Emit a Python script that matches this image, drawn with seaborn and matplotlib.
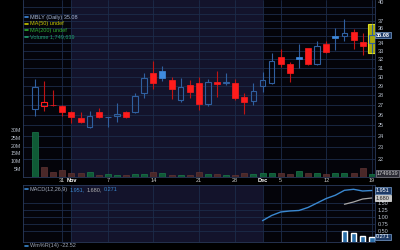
import numpy as np
import pandas as pd
import matplotlib
matplotlib.use("Agg")
import matplotlib.pyplot as plt
import seaborn as sns
from matplotlib.transforms import blended_transform_factory as btf
from matplotlib.lines import Line2D
import matplotlib.ticker as mticker

# ---------------- data ----------------
day_idx = list(range(38))
opens  = [26.51, 26.85, 26.98, 26.88, 26.27, 25.69, 24.83, 26.27, 25.75, 25.85,
          26.27, 26.27, 28.17, 30.37, 30.64, 29.61, 27.45, 29.06, 29.32, 27.02,
          29.43, 29.25, 29.32, 27.74, 27.39, 28.98, 29.32, 32.34, 31.42, 32.34,
          33.41, 31.46, 33.93, 34.97, 34.90, 35.43, 34.22, 34.00]
highs  = [29.73, 29.50, 28.52, 26.95, 26.30, 26.21, 26.37, 26.68, 25.80, 27.12,
          26.37, 28.17, 30.37, 31.76, 31.26, 29.92, 29.81, 29.61, 29.92, 29.69,
          30.64, 30.37, 29.69, 28.20, 29.28, 30.56, 32.83, 33.25, 31.73, 33.93,
          33.45, 34.31, 34.31, 36.04, 37.35, 35.86, 35.36, 36.55]
lows   = [25.85, 26.37, 26.88, 25.85, 25.15, 25.15, 24.68, 25.70, 24.83, 25.30,
          25.63, 26.15, 27.67, 28.63, 29.48, 27.57, 27.29, 27.67, 26.45, 26.85,
          27.80, 29.06, 27.45, 26.05, 26.90, 28.34, 29.17, 31.10, 29.43, 30.99,
          31.34, 31.38, 32.76, 33.16, 34.37, 33.25, 32.55, 32.85]
closes = [28.87, 27.22, 26.95, 26.21, 25.73, 25.30, 25.85, 25.73, 25.78, 26.05,
          25.73, 27.91, 29.81, 29.25, 29.81, 28.68, 28.87, 28.27, 27.05, 29.43,
          29.17, 29.39, 27.70, 27.25, 28.41, 29.61, 31.85, 31.42, 30.44, 32.02,
          31.46, 33.67, 32.95, 34.64, 35.32, 34.44, 33.70, 35.08]
volumes_m = [28.7, 5.9, 3.1, 4.2, 2.5, 2.5, 3.1, 1.0, 1.6, 1.2,
             0.8, 1.4, 1.8, 2.9, 2.3, 1.2, 1.2, 0.8, 2.7, 1.6,
             1.6, 0.8, 1.2, 2.0, 1.4, 2.0, 2.5, 2.0, 1.6, 3.7,
             2.0, 2.3, 1.4, 2.3, 2.0, 2.0, 5.5, 1.75]

date_ticks  = [3, 4, 8, 13, 18, 22, 25, 27, 32, 37]
date_labels = ["31", "Nov", "7", "14", "21", "28", "Dec", "5", "12", "19"]
month_start = [4, 25]

price_grid = [22, 23, 24, 25, 26, 27, 28, 29, 30, 31, 32, 33, 34, 35, 36, 37, 38, 39]
price_labels = ["22", "23", "24", "25", "26", "27", "28", "29", "30", "31", "32",
                "33", "34", "", "36", "37", "", ""]
top_price_label = 40
vol_ticks = [5, 10, 15, 20, 25, 30]

macd_idx  = list(range(25, 38))
macd_vals = [0.861, 1.049, 1.175, 1.211, 1.229, 1.338, 1.50, 1.662, 1.78,
             1.958, 1.995, 1.933, 1.951]
signal_idx  = [34, 35, 36, 37]
signal_vals = [1.453, 1.536, 1.644, 1.680]
hist_vals   = [0.49, 0.42, 0.29, 0.271]
macd_ticks  = [0.50, 0.75, 1.00, 1.25, 1.50]

# ---------------- style ----------------
sns.set_theme(style="dark")
plt.rcParams["font.family"] = ["Liberation Sans", "DejaVu Sans"]

BG = "#04040a"
SHADE = "#13132b"
GRID = "#1c2c4a"
SPINE = "#2a3a5c"
TXT = "#b8c0cc"
RED = "#ff1c1c"
RED_W = "#c01414"
BLUE_F = "#3f8be0"
BLUE_E = "#2f5f9f"
FS = 4.0

fig = plt.figure(figsize=(4, 2.5), dpi=100, facecolor="black")

W, H = 400.0, 250.0
ax = fig.add_axes([23 / W, 1 - 177 / H, 352 / W, 177 / H])
ax.set_facecolor(BG)
ax.set_yscale("log")
ax.set_ylim(20.54, 40.05)
ax.set_xlim(-1.32, 37.36)
ax.axvspan(month_start[0], month_start[1], color=SHADE, zorder=0, lw=0)

# volume axis (created first so the price axis can be set back to the right)
axv = ax.twinx()

ax.yaxis.set_major_locator(mticker.FixedLocator(price_grid))
ax.yaxis.set_major_formatter(mticker.FixedFormatter(price_labels))
ax.yaxis.set_minor_locator(mticker.NullLocator())
ax.yaxis.tick_right()
ax.tick_params(axis="y", which="both", left=False, labelleft=False,
               right=False, labelright=True, length=0, pad=2,
               labelsize=FS, labelcolor=TXT)
ax.set_xticks(date_ticks)
ax.set_xticklabels(date_labels)
ax.tick_params(axis="x", length=0, pad=1.0, labelsize=FS, labelcolor="#c8c8c8")
for lab in ax.get_xticklabels():
    if lab.get_text() in ("Nov", "Dec"):
        lab.set_fontweight("bold")
        lab.set_color("white")
ax.grid(True, color=GRID, lw=0.6)
ax.set_axisbelow(True)
for s in ax.spines.values():
    s.set_color(SPINE)
    s.set_linewidth(0.6)
ax.spines["top"].set_visible(False)

tr = btf(ax.transAxes, ax.transData)
ax.text(1.0 + 2.8 / 352, top_price_label, f"{top_price_label}", transform=tr,
        ha="left", va="top", fontsize=FS, color=TXT, clip_on=False)

# last candle highlight
ax.bar(day_idx[-1], highs[-1] - lows[-1], bottom=lows[-1], width=0.82,
       facecolor="#a8a80a", edgecolor="#e0e020", lw=0.8, zorder=2.5)

for i in day_idx:
    o, h, l, c = opens[i], highs[i], lows[i], closes[i]
    up = i == 0 or c >= closes[i - 1]
    filled = c < o
    col_e = BLUE_E if up else RED
    col_f = BLUE_F if up else RED
    wick = BLUE_E if up else RED_W
    lo_b, hi_b = min(o, c), max(o, c)
    hgt = max(hi_b - lo_b, 0.05)
    ax.vlines(i, l, lo_b, color=wick, lw=0.8, zorder=3)
    ax.vlines(i, hi_b, h, color=wick, lw=0.8, zorder=3)
    if filled:
        ax.bar(i, hgt, bottom=lo_b, width=0.66, facecolor=col_f, edgecolor=col_f,
               lw=0.5, zorder=4)
    else:
        ax.bar(i, hgt, bottom=lo_b, width=0.62, facecolor="none", edgecolor=col_e,
               lw=0.8, zorder=4)

# volume
axv.set_ylim(-0.32, 113.9)
axv.set_xlim(-1.32, 37.36)
axv.set_yticks(vol_ticks)
axv.set_yticklabels([f"{v}M" for v in vol_ticks])
axv.yaxis.set_minor_locator(mticker.NullLocator())
axv.tick_params(axis="y", which="both", left=False, labelleft=True, right=False,
                labelright=False, length=0, pad=1.5, labelsize=FS - 0.2,
                labelcolor=TXT)
axv.grid(False)
for s in axv.spines.values():
    s.set_visible(False)
vcols = []
vedges = []
for i in day_idx:
    up = i == 0 or closes[i] >= closes[i - 1]
    vcols.append("#0f5a36" if up else "#4a2828")
    vedges.append("#1b7a4c" if up else "#603434")
axv.bar(day_idx, volumes_m, width=0.66, color=vcols, edgecolor=vedges, lw=0.5, zorder=3)

# tags on right
ax.text(1.003, closes[-1], f"{closes[-1]:.2f}", transform=tr, ha="left", va="center",
        fontsize=FS, color="white", fontweight="bold", clip_on=False, zorder=10,
        bbox=dict(boxstyle="square,pad=0.15", fc="#1d3a66", ec="#7aa0d0", lw=0.5))
trv = btf(axv.transAxes, axv.transData)
axv.text(1.005, volumes_m[-1], "1749639", transform=trv, ha="left", va="center",
         fontsize=FS, color="#d0d0d0", clip_on=False, zorder=10,
         bbox=dict(boxstyle="square,pad=0.15", fc="#2a2a34", ec="#8a8a96", lw=0.5))

# legend helpers
def fline(x0, x1, y, color, lw=1.2):
    fig.add_artist(Line2D([x0 / W, x1 / W], [1 - y / H, 1 - y / H], color=color, lw=lw,
                          transform=fig.transFigure))

def chain(x, y, parts):
    prev = None
    for txt, col in parts:
        if prev is None:
            prev = fig.text(x / W, 1 - y / H, txt, color=col, fontsize=FS,
                            ha="left", va="center")
        else:
            prev = fig.add_artist(plt.Annotation(txt, xy=(1, 0.5), xycoords=prev,
                                                 xytext=(1.1, 0), textcoords="offset points",
                                                 ha="left", va="center", color=col,
                                                 fontsize=FS))

leg = [("MBLY (Daily) 35.08", "#a8b8d8", "#3f8be0", 17.3),
       ("MA(50) undef", "#c8c800", "#c8c800", 24.0),
       ("MA(200) undef", "#30b030", "#30b030", 30.2),
       ("Volume 1,749,639", "#22a070", "#22a070", 36.7)]
for txt, tc, ic, y in leg:
    fline(24.5, 28.5, y, ic)
    fig.text(30 / W, 1 - y / H, txt, color=tc, fontsize=FS, ha="left", va="center")

# ---------------- MACD panel ----------------
axm = fig.add_axes([23 / W, 1 - 242 / H, 352 / W, 57 / H])
axm.set_facecolor(BG)
axm.set_xlim(-1.32, 37.36)
axm.set_ylim(0.09, 2.15)
axm.axvspan(month_start[0], month_start[1], color=SHADE, zorder=0, lw=0)
axm.set_xticks(date_ticks)
axm.set_xticklabels([])
axm.set_yticks(macd_ticks)
axm.set_yticklabels([f"{v:.2f}" for v in macd_ticks])
axm.yaxis.tick_right()
axm.tick_params(axis="y", length=0, pad=2, labelsize=FS, labelcolor=TXT)
axm.tick_params(axis="x", length=0)
axm.grid(True, color=GRID, lw=0.6)
axm.set_axisbelow(True)
for s in axm.spines.values():
    s.set_color(SPINE)
    s.set_linewidth(0.6)

axm.bar(signal_idx, hist_vals, width=0.62, color="#2a6ea8", zorder=2)
sns.lineplot(x=macd_idx, y=macd_vals, ax=axm, color="#3a88d0", lw=1.0, zorder=3)
sns.lineplot(x=signal_idx, y=signal_vals, ax=axm, color="#a8a8a8", lw=0.9, zorder=3)
axm.set_xlabel("")
axm.set_ylabel("")

trm = btf(axm.transAxes, axm.transData)
for val, fc, ec, tcol in [(macd_vals[-1], "#1d3a66", "#7aa0d0", "white"),
                          (signal_vals[-1], "#c8c8c8", "#f0f0f0", "#202020"),
                          (hist_vals[-1], "#1d3a66", "#7aa0d0", "white")]:
    axm.text(1.003, val, f"{val:.3f}", transform=trm, ha="left", va="center",
             fontsize=FS, color=tcol, clip_on=False, zorder=10,
             bbox=dict(boxstyle="square,pad=0.15", fc=fc, ec=ec, lw=0.5))

fline(24.5, 28.5, 189.3, "#3a88d0")
chain(30, 189.3, [("MACD(12,26,9)", "#a0a8b8"),
                  (f"{macd_vals[-1]:.3f},", "#3a88d0"),
                  (f"{signal_vals[-1]:.3f},", "#b0b0b0"),
                  (f"{hist_vals[-1]:.3f}", "#3a88d0")])

fline(24.5, 28.5, 245.5, "#3a88d0")
fig.text(30 / W, 1 - 245.5 / H, "Wm%R(14) -22.52", color="#a0a8b8", fontsize=FS, va="center")

fig.savefig("out.png", dpi=100, facecolor="black")
